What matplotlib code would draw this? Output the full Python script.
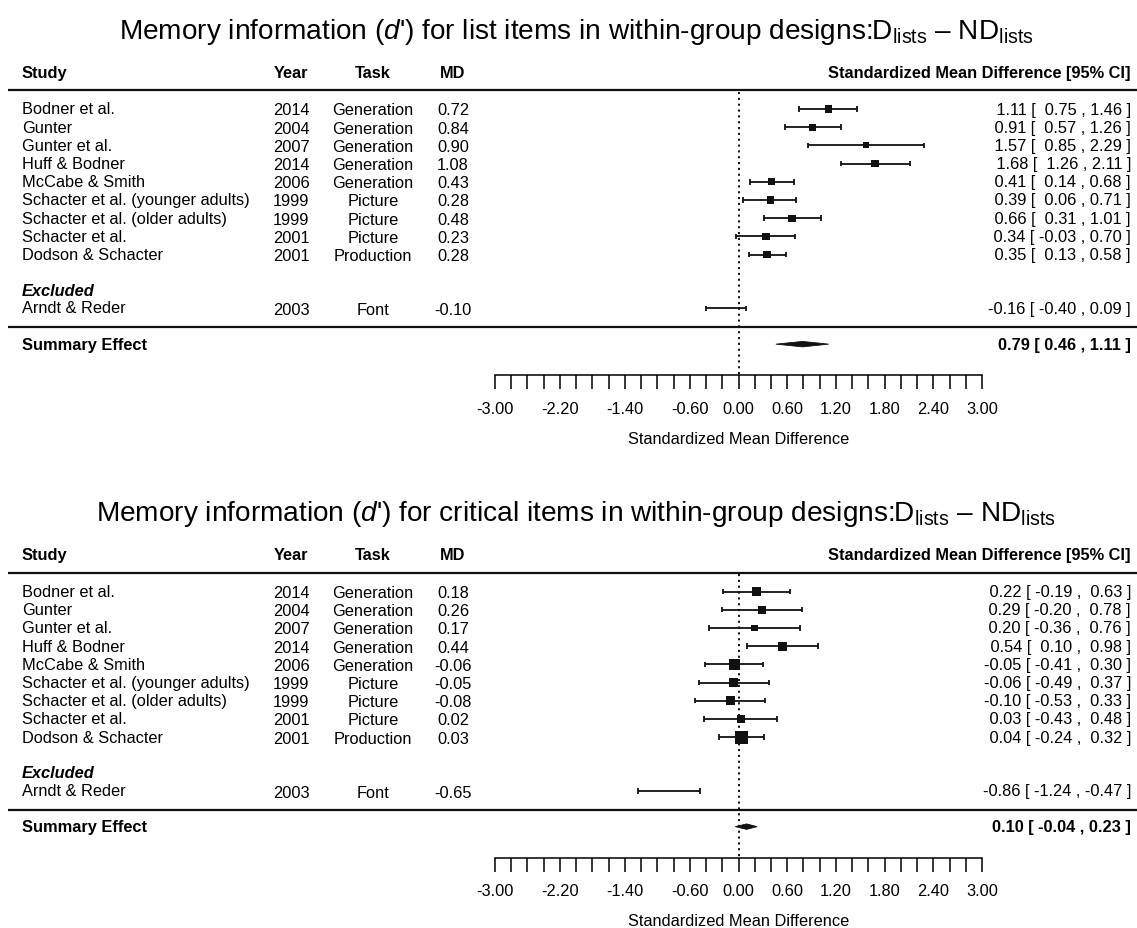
import numpy as np
import matplotlib
import matplotlib.pyplot as plt
matplotlib.use('Agg')

plt.rcParams['font.family'] = ['Liberation Sans', 'DejaVu Sans']
plt.rcParams['mathtext.fontset'] = 'custom'
plt.rcParams['mathtext.rm'] = 'Liberation Sans'
plt.rcParams['mathtext.it'] = 'Liberation Sans:italic'
plt.rcParams['mathtext.bf'] = 'Liberation Sans:bold'

# studies (same in both panels)
studies = ['Bodner et al.', 'Gunter', 'Gunter et al.', 'Huff & Bodner', 'McCabe & Smith',
           'Schacter et al. (younger adults)', 'Schacter et al. (older adults)',
           'Schacter et al.', 'Dodson & Schacter']
years = [2014, 2004, 2007, 2014, 2006, 1999, 1999, 2001, 2001]
tasks = ['Generation', 'Generation', 'Generation', 'Generation', 'Generation',
         'Picture', 'Picture', 'Picture', 'Production']
excl_study = 'Arndt & Reder'
excl_year = 2003
excl_task = 'Font'

# list items
md_list = [0.72, 0.84, 0.90, 1.08, 0.43, 0.28, 0.48, 0.23, 0.28]
smd_list = [1.11, 0.91, 1.57, 1.68, 0.41, 0.39, 0.66, 0.34, 0.35]
lo_list = [0.75, 0.57, 0.85, 1.26, 0.14, 0.06, 0.31, -0.03, 0.13]
hi_list = [1.46, 1.26, 2.29, 2.11, 0.68, 0.71, 1.01, 0.70, 0.58]
wt_list = [1.0, 1.0, 0.7, 1.0, 1.0, 1.0, 1.0, 1.0, 1.0]   # relative box weight
excl_list = [-0.10, -0.16, -0.40, 0.09]   # MD, SMD, lower, upper
summ_list = [0.79, 0.46, 1.11]

# critical items
md_crit = [0.18, 0.26, 0.17, 0.44, -0.06, -0.05, -0.08, 0.02, 0.03]
smd_crit = [0.22, 0.29, 0.20, 0.54, -0.05, -0.06, -0.10, 0.03, 0.04]
lo_crit = [-0.19, -0.20, -0.36, 0.10, -0.41, -0.49, -0.53, -0.43, -0.24]
hi_crit = [0.63, 0.78, 0.76, 0.98, 0.30, 0.37, 0.33, 0.48, 0.32]
wt_crit = [0.5, 0.35, 0.27, 0.47, 0.7, 0.47, 0.47, 0.42, 1.0]
excl_crit = [-0.65, -0.86, -1.24, -0.47]
summ_crit = [0.10, -0.04, 0.23]

tick_vals = [-3.0, -2.2, -1.4, -0.6, 0.0, 0.6, 1.2, 1.8, 2.4, 3.0]

W, H = 1137, 929
ZERO_PX = 738.5
PX_UNIT = 81.2
ROW_PX = 18.2
FS = 11.8
INK = '#111111'


def px2x(px):
    return (px - ZERO_PX) / PX_UNIT


def pad_col(vals):
    s = ['%.2f' % v for v in vals]
    n = max(len(t) for t in s)
    return [t.rjust(n) for t in s]


def draw_panel(ax, title, md, smd, lo, hi, wt, excl, summ, top_px, bot_px, first_px, box_max):
    ax.set_position([0, 1 - bot_px / H, 1, (bot_px - top_px) / H])
    ax.set_xlim(px2x(0), px2x(W))
    ax.set_ylim((bot_px - first_px) / ROW_PX, (top_px - first_px) / ROW_PX)

    rows = np.arange(len(studies))
    y_excl_head = 9.95
    y_excl = 10.95
    y_line2 = 11.98
    y_summ = 12.92
    y_axis = 14.62

    ax.text(px2x(576), -4.3, title, ha='center', va='center', fontsize=20.2)

    # header
    ax.text(px2x(22), -2.03, 'Study', ha='left', va='center', fontsize=FS, fontweight='bold')
    ax.text(px2x(291), -2.03, 'Year', ha='center', va='center', fontsize=FS, fontweight='bold')
    ax.text(px2x(373), -2.03, 'Task', ha='center', va='center', fontsize=FS, fontweight='bold')
    ax.text(px2x(453), -2.03, 'MD', ha='center', va='center', fontsize=FS, fontweight='bold')
    ax.text(px2x(1131), -2.03, 'Standardized Mean Difference [95% CI]', ha='right', va='center',
            fontsize=FS, fontweight='bold')
    ax.hlines([-1.02, y_line2], px2x(8), px2x(W), color=INK, lw=1.6)

    # text columns
    all_est = pad_col(list(smd) + [excl[1]])
    all_lo = pad_col(list(lo) + [excl[2]])
    all_hi = pad_col(list(hi) + [excl[3]])
    for i, y in enumerate(rows):
        ax.text(px2x(22), y, studies[i], ha='left', va='center', fontsize=FS)
        ax.text(px2x(291), y + 0.05, str(years[i]), ha='center', va='center', fontsize=FS)
        ax.text(px2x(373), y + 0.05, tasks[i], ha='center', va='center', fontsize=FS)
        ax.text(px2x(453), y + 0.05, '%.2f' % md[i], ha='center', va='center', fontsize=FS)
        ax.text(px2x(1131), y, '%s [ %s , %s ]' % (all_est[i], all_lo[i], all_hi[i]),
                ha='right', va='center', fontsize=FS)

    ax.text(px2x(22), y_excl_head, 'Excluded', ha='left', va='center', fontsize=FS,
            fontweight='bold', fontstyle='italic')
    ax.text(px2x(22), y_excl - 0.02, excl_study, ha='left', va='center', fontsize=FS)
    ax.text(px2x(291), y_excl + 0.08, str(excl_year), ha='center', va='center', fontsize=FS)
    ax.text(px2x(373), y_excl + 0.08, excl_task, ha='center', va='center', fontsize=FS)
    ax.text(px2x(453), y_excl + 0.08, '%.2f' % excl[0], ha='center', va='center', fontsize=FS)
    ax.text(px2x(1131), y_excl, '%s [ %s , %s ]' % (all_est[-1], all_lo[-1], all_hi[-1]),
            ha='right', va='center', fontsize=FS)

    ax.text(px2x(22), y_summ, 'Summary Effect', ha='left', va='center', fontsize=FS, fontweight='bold')
    ax.text(px2x(1131), y_summ, '%.2f [ %.2f , %.2f ]' % (summ[0], summ[1], summ[2]),
            ha='right', va='center', fontsize=FS, fontweight='bold')

    # reference line at zero
    ax.vlines(0, -0.95, y_axis, color=INK, lw=1.4, linestyles=(0, (1.1, 1.9)))

    # confidence intervals
    cap = 0.15
    ax.hlines(rows, lo, hi, color=INK, lw=1.3)
    ax.vlines(lo, rows - cap, rows + cap, color=INK, lw=1.3)
    ax.vlines(hi, rows - cap, rows + cap, color=INK, lw=1.3)
    side = box_max * 0.72 * np.sqrt(np.array(wt))
    ax.scatter(smd, rows, marker='s', s=side ** 2, color=INK, linewidths=0, zorder=3)

    ax.hlines(y_excl, excl[2], excl[3], color=INK, lw=1.3)
    ax.vlines([excl[2], excl[3]], y_excl - cap, y_excl + cap, color=INK, lw=1.3)

    # summary diamond
    dh = 0.15
    ax.fill([summ[1], summ[0], summ[2], summ[0]], [y_summ, y_summ - dh, y_summ, y_summ + dh],
            color=INK, lw=0.6, ec=INK)

    # axis
    for s in ['top', 'left', 'right']:
        ax.spines[s].set_visible(False)
    ax.spines['bottom'].set_position(('data', y_axis))
    ax.spines['bottom'].set_bounds(-3, 3)
    ax.spines['bottom'].set_linewidth(1.1)
    ax.set_xticks(tick_vals)
    ax.set_xticklabels(['%.2f' % v for v in tick_vals])
    ax.set_xticks(np.arange(-3, 3.001, 0.2), minor=True)
    ax.tick_params(axis='x', which='both', direction='out', length=10, width=1.1,
                   pad=8.5, labelsize=FS)
    ax.tick_params(axis='y', left=False, labelleft=False)
    ax.text(0, 18.1, 'Standardized Mean Difference', ha='center', va='center', fontsize=FS)


fig = plt.figure(figsize=(W / 100, H / 100), dpi=100)
ax1 = fig.add_axes([0, 0.5, 1, 0.5])
ax2 = fig.add_axes([0, 0, 1, 0.5])

title1 = "Memory information ($d$') for list items in within-group designs:D$_{\\rm lists}$ \u2013 ND$_{\\rm lists}$"
title2 = "Memory information ($d$') for critical items in within-group designs:D$_{\\rm lists}$ \u2013 ND$_{\\rm lists}$"

draw_panel(ax1, title1, md_list, smd_list, lo_list, hi_list, wt_list, excl_list, summ_list,
           0, 464.5, 110, 7.3)
draw_panel(ax2, title2, md_crit, smd_crit, lo_crit, hi_crit, wt_crit, excl_crit, summ_crit,
           464.5, 929, 592.5, 13)

fig.savefig('out.png', dpi=100)
